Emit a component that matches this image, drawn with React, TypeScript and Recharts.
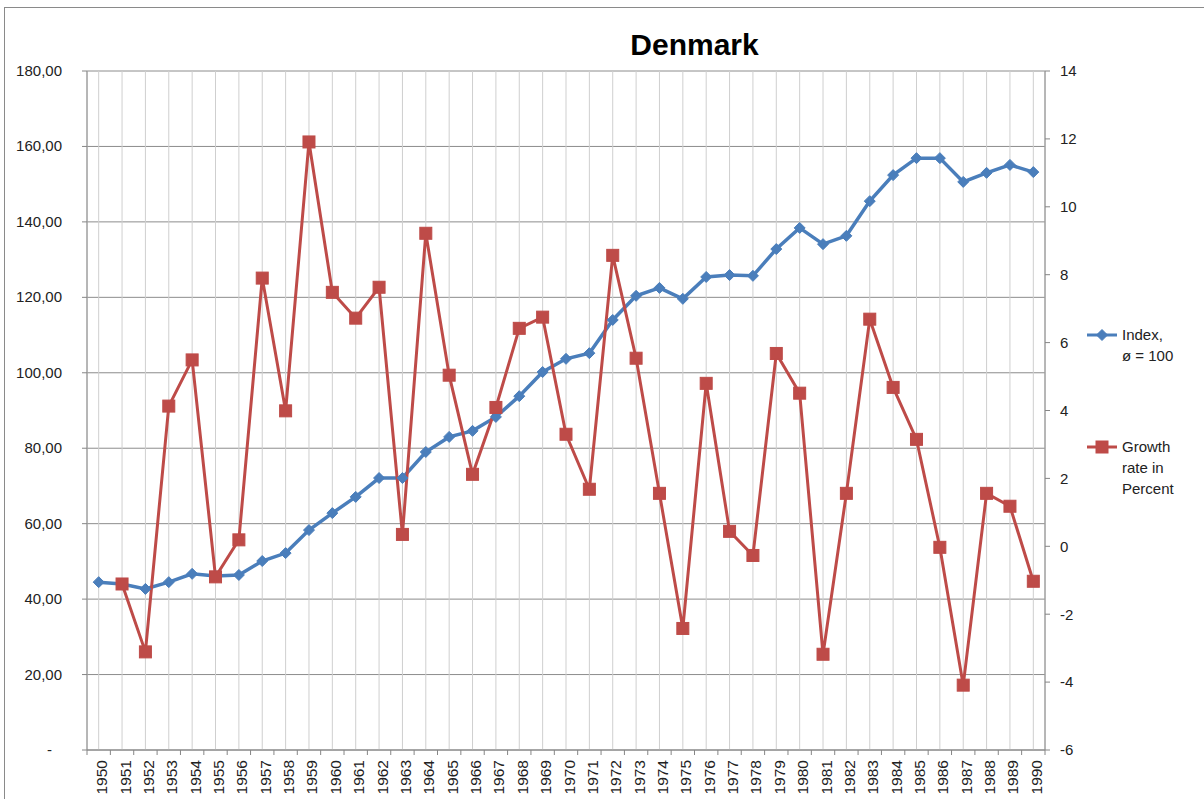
import { CartesianGrid, Line, LineChart, XAxis, YAxis } from 'recharts';

const years = [
  1950, 1951, 1952, 1953, 1954, 1955, 1956, 1957, 1958, 1959, 1960, 1961, 1962, 1963,
  1964, 1965, 1966, 1967, 1968, 1969, 1970, 1971, 1972, 1973, 1974, 1975, 1976, 1977,
  1978, 1979, 1980, 1981, 1982, 1983, 1984, 1985, 1986, 1987, 1988, 1989, 1990,
];

const indexValues = [
  44.5, 44.0, 42.7, 44.5, 46.7, 46.1, 46.4, 50.1, 52.2, 58.3, 62.8, 67.1, 72.1, 72.1,
  79.0, 83.0, 84.6, 88.3, 93.8, 100.2, 103.7, 105.2, 114.0, 120.4, 122.5, 119.6, 125.4, 125.9,
  125.7, 132.8, 138.4, 134.1, 136.3, 145.5, 152.4, 156.9, 156.9, 150.6, 153.0, 155.1, 153.2,
];

const growthValues: (number | null)[] = [
  null, -1.11, -3.11, 4.13, 5.49, -0.9, 0.19, 7.9, 3.99, 11.91, 7.48, 6.72, 7.63, 0.35,
  9.22, 5.04, 2.12, 4.09, 6.42, 6.75, 3.3, 1.68, 8.57, 5.54, 1.56, -2.42, 4.8, 0.44,
  -0.27, 5.68, 4.51, -3.18, 1.56, 6.69, 4.68, 3.15, -0.03, -4.09, 1.56, 1.18, -1.03,
];

const leftTicks = [0, 20, 40, 60, 80, 100, 120, 140, 160, 180];
const rightTicks = [-6, -4, -2, 0, 2, 4, 6, 8, 10, 12, 14];

const BLUE = '#4A7EBB';
const RED = '#BE4B48';
const FONT = '"Liberation Sans", Arial, sans-serif';

const series = [
  { key: 'index', lines: ['Index,', 'ø = 100'], color: BLUE, shape: 'diamond', y: 335 },
  { key: 'growth', lines: ['Growth', 'rate in', 'Percent'], color: RED, shape: 'square', y: 447 },
];

const data = years.map((y, i) => ({
  year: String(y),
  index: indexValues[i],
  growth: growthValues[i],
}));

// plot area: x 87..1045, y 71..750
const PLOT_W = 958;
const BAND = PLOT_W / years.length;

function Diamond({ cx, cy, color }: { cx?: number; cy?: number; color: string }) {
  if (cx == null || cy == null) return null;
  const r = 5.5;
  return (
    <path
      d={`M${cx},${cy - r} L${cx + r},${cy} L${cx},${cy + r} L${cx - r},${cy} Z`}
      fill={color}
      stroke={color}
      strokeWidth={1}
    />
  );
}

function Square({ cx, cy, color }: { cx?: number; cy?: number; color: string }) {
  if (cx == null || cy == null) return null;
  return <rect x={cx - 6} y={cy - 6} width={12} height={12} fill={color} stroke={color} />;
}

function XTick(props: any) {
  const { x, y, payload, index } = props;
  const last = index === years.length - 1;
  return (
    <g>
      <line x1={x - BAND / 2} y1={y} x2={x - BAND / 2} y2={y + 5} stroke="#868686" />
      {last && <line x1={x + BAND / 2} y1={y} x2={x + BAND / 2} y2={y + 5} stroke="#868686" />}
      <text
        x={x + 8.5}
        y={y + 10}
        transform={`rotate(-90, ${x + 8.5}, ${y + 10})`}
        textAnchor="end"
        fontSize={15.5}
        fontFamily={FONT}
        fill="#222"
      >
        {payload.value}
      </text>
    </g>
  );
}

function LeftTick(props: any) {
  const { x, y, payload } = props;
  const v = payload.value as number;
  const label = v === 0 ? '-' : v.toFixed(2).replace('.', ',');
  return (
    <text
      x={v === 0 ? x - 10 : x}
      y={y}
      dy={5}
      textAnchor="end"
      fontSize={15}
      fontFamily={FONT}
      fill="#222"
    >
      {label}
    </text>
  );
}

function LegendBox() {
  return (
    <svg
      width={120}
      height={200}
      style={{ position: 'absolute', left: 1080, top: 310, overflow: 'visible' }}
    >
      {series.map((s) => {
        const ly = s.y - 310;
        return (
          <g key={s.key}>
            <line x1={7} y1={ly} x2={37} y2={ly} stroke={s.color} strokeWidth={3} />
            {s.shape === 'diamond' ? (
              <Diamond cx={22} cy={ly} color={s.color} />
            ) : (
              <Square cx={22} cy={ly} color={s.color} />
            )}
            {s.lines.map((t, i) => (
              <text
                key={t}
                x={42}
                y={ly + 5 + i * 21}
                fontSize={15}
                fontFamily={FONT}
                fill="#222"
              >
                {t}
              </text>
            ))}
          </g>
        );
      })}
    </svg>
  );
}

export default function App() {
  return (
    <div
      style={{
        position: 'absolute',
        left: 0,
        top: 0,
        width: 1204,
        height: 799,
        overflow: 'hidden',
        background: '#fff',
        fontFamily: FONT,
      }}
    >
      <div
        style={{
          position: 'absolute',
          left: 4,
          top: 7,
          width: 1220,
          height: 820,
          border: '1.5px solid #8a8a8a',
        }}
      />
      <div
        style={{
          position: 'absolute',
          left: 694.5,
          top: 29.5,
          transform: 'translateX(-50%)',
          fontSize: 30,
          lineHeight: 1,
          fontWeight: 'bold',
          color: '#000',
          whiteSpace: 'nowrap',
        }}
      >
        Denmark
      </div>
      <div style={{ position: 'absolute', left: 0, top: 0 }}>
        <LineChart
          width={1204}
          height={799}
          data={data}
          margin={{ top: 71, right: 99, bottom: 0, left: 0 }}
        >
          <CartesianGrid yAxisId="left" vertical={false} stroke="#8c8c8c" />
          <CartesianGrid yAxisId="left" horizontal={false} stroke="#cfcfcf" />
          <XAxis
            dataKey="year"
            scale="band"
            height={49}
            interval={0}
            tickLine={false}
            tickSize={0}
            tickMargin={0}
            axisLine={{ stroke: '#868686' }}
            tick={<XTick />}
          />
          <YAxis
            yAxisId="left"
            width={87}
            domain={[0, 180]}
            ticks={leftTicks}
            interval={0}
            tickSize={5}
            tickMargin={20}
            axisLine={{ stroke: '#868686' }}
            tickLine={{ stroke: '#868686' }}
            tick={<LeftTick />}
          />
          <YAxis
            yAxisId="right"
            orientation="right"
            width={60}
            domain={[-6, 14]}
            ticks={rightTicks}
            interval={0}
            tickSize={5}
            tickMargin={10}
            axisLine={{ stroke: '#868686' }}
            tickLine={{ stroke: '#868686' }}
            tick={{ fontSize: 15, fontFamily: FONT, fill: '#222' }}
          />
          <Line
            yAxisId="left"
            dataKey="index"
            stroke={BLUE}
            strokeWidth={3.5}
            dot={(p: any) => <Diamond key={`d${p.index}`} cx={p.cx} cy={p.cy} color={BLUE} />}
            isAnimationActive={false}
          />
          <Line
            yAxisId="right"
            dataKey="growth"
            stroke={RED}
            strokeWidth={3}
            dot={(p: any) => <Square key={`s${p.index}`} cx={p.cx} cy={p.cy} color={RED} />}
            isAnimationActive={false}
          />
        </LineChart>
      </div>
      <LegendBox />
    </div>
  );
}
